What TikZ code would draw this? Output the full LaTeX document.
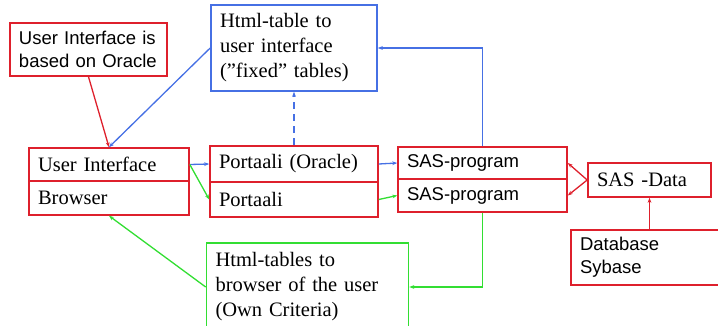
\documentclass[tikz,border=0pt]{standalone}
\usepackage{fontspec}
\setmainfont{Liberation Serif}
\setsansfont{Liberation Sans}
\usepackage{tikz}
\usetikzlibrary{arrows.meta, calc}
\usepackage{xcolor}
\definecolor{boxred}{RGB}{222,32,44}
\definecolor{lineblue}{RGB}{70,112,228}
\definecolor{linegreen}{RGB}{50,222,50}
\tikzset{
  base/.style={draw, line width=1.6pt, align=left, inner xsep=9pt, inner ysep=2pt},
  serif/.style={font=\fontsize{20.5}{25}\selectfont\rmfamily},
  sans/.style={font=\fontsize{18.5}{23}\selectfont\sffamily},
  redbox/.style   = {base, draw=boxred},
  bluebox/.style  = {base, draw=lineblue},
  greenbox/.style = {base, draw=linegreen},
  redarr/.style   = {-{Stealth[length=5pt]}, line width=1.3pt, color=boxred},
  bluearr/.style  = {-{Stealth[length=5pt]}, line width=1.3pt, color=lineblue},
  greenarr/.style = {-{Stealth[length=5pt]}, line width=1.3pt, color=linegreen},
}

\begin{document}
\begin{tikzpicture}[x=1pt, y=-1pt]
  \useasboundingbox (0,0) rectangle (718,326);
  \clip (0,0) rectangle (718,326);

  % Boxes
  \node[redbox, sans, text width=139pt, minimum height=53pt] (note) at (88.5,49.5) {User Interface is\\based on Oracle};
  \node[bluebox, serif, text width=148pt, minimum height=86pt] (html) at (294,48) {Html-table to\\user interface\\(''fixed'' tables)};
  \node[redbox, serif, text width=142pt, minimum height=33pt] (ui) at (109,164.5) {User Interface};
  \node[redbox, serif, text width=142pt, minimum height=34pt] (browser) at (109,198) {Browser};
  \node[redbox, serif, text width=150pt, minimum height=36pt] (portO) at (294,164) {Portaali (Oracle)};
  \node[redbox, serif, text width=150pt, minimum height=35pt] (port) at (294,199.5) {Portaali};
  \node[redbox, sans, text width=151pt, minimum height=32pt] (sas1) at (482.5,163) {SAS-program};
  \node[redbox, sans, text width=151pt, minimum height=33pt] (sas2) at (482.5,195.5) {SAS-program};
  \node[redbox, serif, text width=105pt, minimum height=34pt] (sasdata) at (649.5,180) {SAS -Data};
  \node[redbox, sans, text width=142pt, minimum height=55pt] (db) at (651,257.5) {Database\\Sybase};
  \node[greenbox, serif, text width=184pt, minimum height=88pt] (tables) at (307.5,287) {Html-tables to\\browser of the user\\(Own Criteria)};

  % Connectors
  \draw[redarr] (note.south) -- (ui.north);
  \draw[bluearr] (html.west) -- (ui.north);
  \draw[bluearr, dash pattern=on 7pt off 5pt] (portO.north) -- (html.south);
  \draw[bluearr] (sas1.north) |- (html.east);
  \draw[bluearr] (ui.east) -- (portO.west);
  \draw[greenarr] (ui.east) -- (port.west);
  \draw[bluearr] (portO.east) -- (sas1.west);
  \draw[greenarr] (port.east) -- (sas2.west);
  \draw[redarr] (sasdata.west) -- (sas1.east);
  \draw[redarr] (sasdata.west) -- (sas2.east);
  \draw[redarr] (sasdata.south |- db.north) -- (sasdata.south);
  \draw[greenarr] (sas2.south) |- (tables.east);
  \draw[greenarr] (tables.west) -- (browser.south);
\end{tikzpicture}
\end{document}
